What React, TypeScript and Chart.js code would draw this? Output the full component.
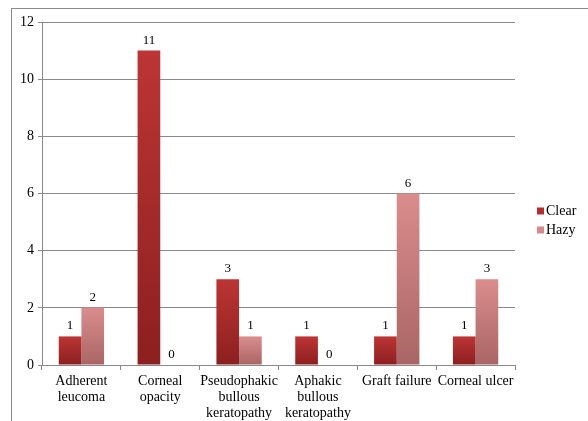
import React, { useEffect, useRef } from "react";
import { Chart, registerables } from "chart.js";

Chart.register(...registerables);

const categories: (string | string[])[] = [
  ["Adherent", "leucoma"],
  ["Corneal", "opacity"],
  ["Pseudophakic", "bullous", "keratopathy"],
  ["Aphakic", "bullous", "keratopathy"],
  "Graft failure",
  "Corneal ulcer",
];
const seriesNames = ["Clear", "Hazy"];
const clearValues = [1, 11, 3, 1, 1, 1];
const hazyValues = [2, 0, 1, 0, 6, 3];
const yTicks = [0, 2, 4, 6, 8, 10, 12];

const FONT = "'Liberation Serif', 'Times New Roman', serif";
const legendColors = ["#b22f2f", "#d48a8a"];
const gradStops = [
  ["#bc3535", "#8c1f1f"],
  ["#da8d8d", "#a96565"],
];

function makeGrad(ctx: any, idx: number) {
  const chart = ctx.chart;
  const y = chart.scales && chart.scales.y;
  if (!y || ctx.type !== "data" || typeof ctx.raw !== "number") return legendColors[idx];
  const top = y.getPixelForValue(ctx.raw);
  const bottom = y.getPixelForValue(0);
  if (!isFinite(top) || !isFinite(bottom) || bottom - top < 1) return gradStops[idx][0];
  const g = chart.ctx.createLinearGradient(0, top, 0, bottom);
  g.addColorStop(0, gradStops[idx][0]);
  g.addColorStop(1, gradStops[idx][1]);
  return g;
}

const extrasPlugin = {
  id: "extras",
  beforeDraw(chart: any) {
    const c = chart.ctx;
    c.save();
    c.strokeStyle = "#8a8a8a";
    c.lineWidth = 1;
    c.strokeRect(11.5, 8.5, chart.width + 20, chart.height + 20);
    c.restore();
  },
  afterDatasetsDraw(chart: any) {
    const c = chart.ctx;
    c.save();
    c.font = `13px ${FONT}`;
    c.fillStyle = "#000";
    c.textAlign = "center";
    c.textBaseline = "alphabetic";
    chart.data.datasets.forEach((ds: any, di: number) => {
      const meta = chart.getDatasetMeta(di);
      meta.data.forEach((bar: any, i: number) => {
        c.fillText(String(ds.data[i]), bar.x, bar.y - 7);
      });
    });
    // legend
    c.font = `14px ${FONT}`;
    c.textAlign = "left";
    c.textBaseline = "middle";
    const ys = [211, 230];
    chart.data.datasets.forEach((ds: any, di: number) => {
      c.fillStyle = legendColors[di];
      c.fillRect(537, ys[di] - 3.5, 7, 7);
      c.fillStyle = "#000";
      c.fillText(ds.label, 546, ys[di] + 0.5);
    });
    c.restore();
  },
};

export default function App() {
  const ref = useRef<HTMLCanvasElement | null>(null);
  useEffect(() => {
    if (!ref.current) return;
    const chart = new Chart(ref.current, {
      type: "bar",
      data: {
        labels: categories,
        datasets: [
          {
            label: seriesNames[0],
            data: clearValues,
            backgroundColor: (ctx: any) => makeGrad(ctx, 0),
            categoryPercentage: 0.575,
            barPercentage: 1,
          },
          {
            label: seriesNames[1],
            data: hazyValues,
            backgroundColor: (ctx: any) => makeGrad(ctx, 1),
            categoryPercentage: 0.575,
            barPercentage: 1,
          },
        ],
      },
      options: {
        animation: false,
        responsive: false,
        maintainAspectRatio: false,
        layout: { padding: { top: 22, left: 12, right: 73, bottom: 0 } },
        plugins: {
          legend: { display: false },
          tooltip: { enabled: false },
        },
        scales: {
          x: {
            afterFit: (s: any) => {
              s.height = 56;
            },
            grid: {
              display: true,
              drawOnChartArea: false,
              drawTicks: true,
              tickLength: 5,
              color: "#8a8a8a",
              offset: true,
            },
            border: { display: true, color: "#8a8a8a" },
            ticks: {
              color: "#000",
              font: { family: FONT, size: 14, lineHeight: 1.15 },
              maxRotation: 0,
              minRotation: 0,
              autoSkip: false,
              padding: 3,
            },
          },
          y: {
            min: 0,
            max: 12,
            afterFit: (s: any) => {
              s.width = 30;
            },
            afterBuildTicks: (s: any) => {
              s.ticks = yTicks.map((v) => ({ value: v }));
            },
            grid: {
              color: "#8a8a8a",
              drawTicks: true,
              tickLength: 4,
            },
            border: { display: true, color: "#8a8a8a" },
            ticks: {
              color: "#000",
              font: { family: FONT, size: 14 },
              padding: 4,
            },
          },
        },
      },
      plugins: [extrasPlugin],
    });
    return () => chart.destroy();
  }, []);
  return (
    <div style={{ position: "fixed", left: 0, top: 0, width: 588, height: 421, background: "#fff" }}>
      <canvas ref={ref} width={588} height={421} style={{ width: 588, height: 421, display: "block" }} />
    </div>
  );
}
